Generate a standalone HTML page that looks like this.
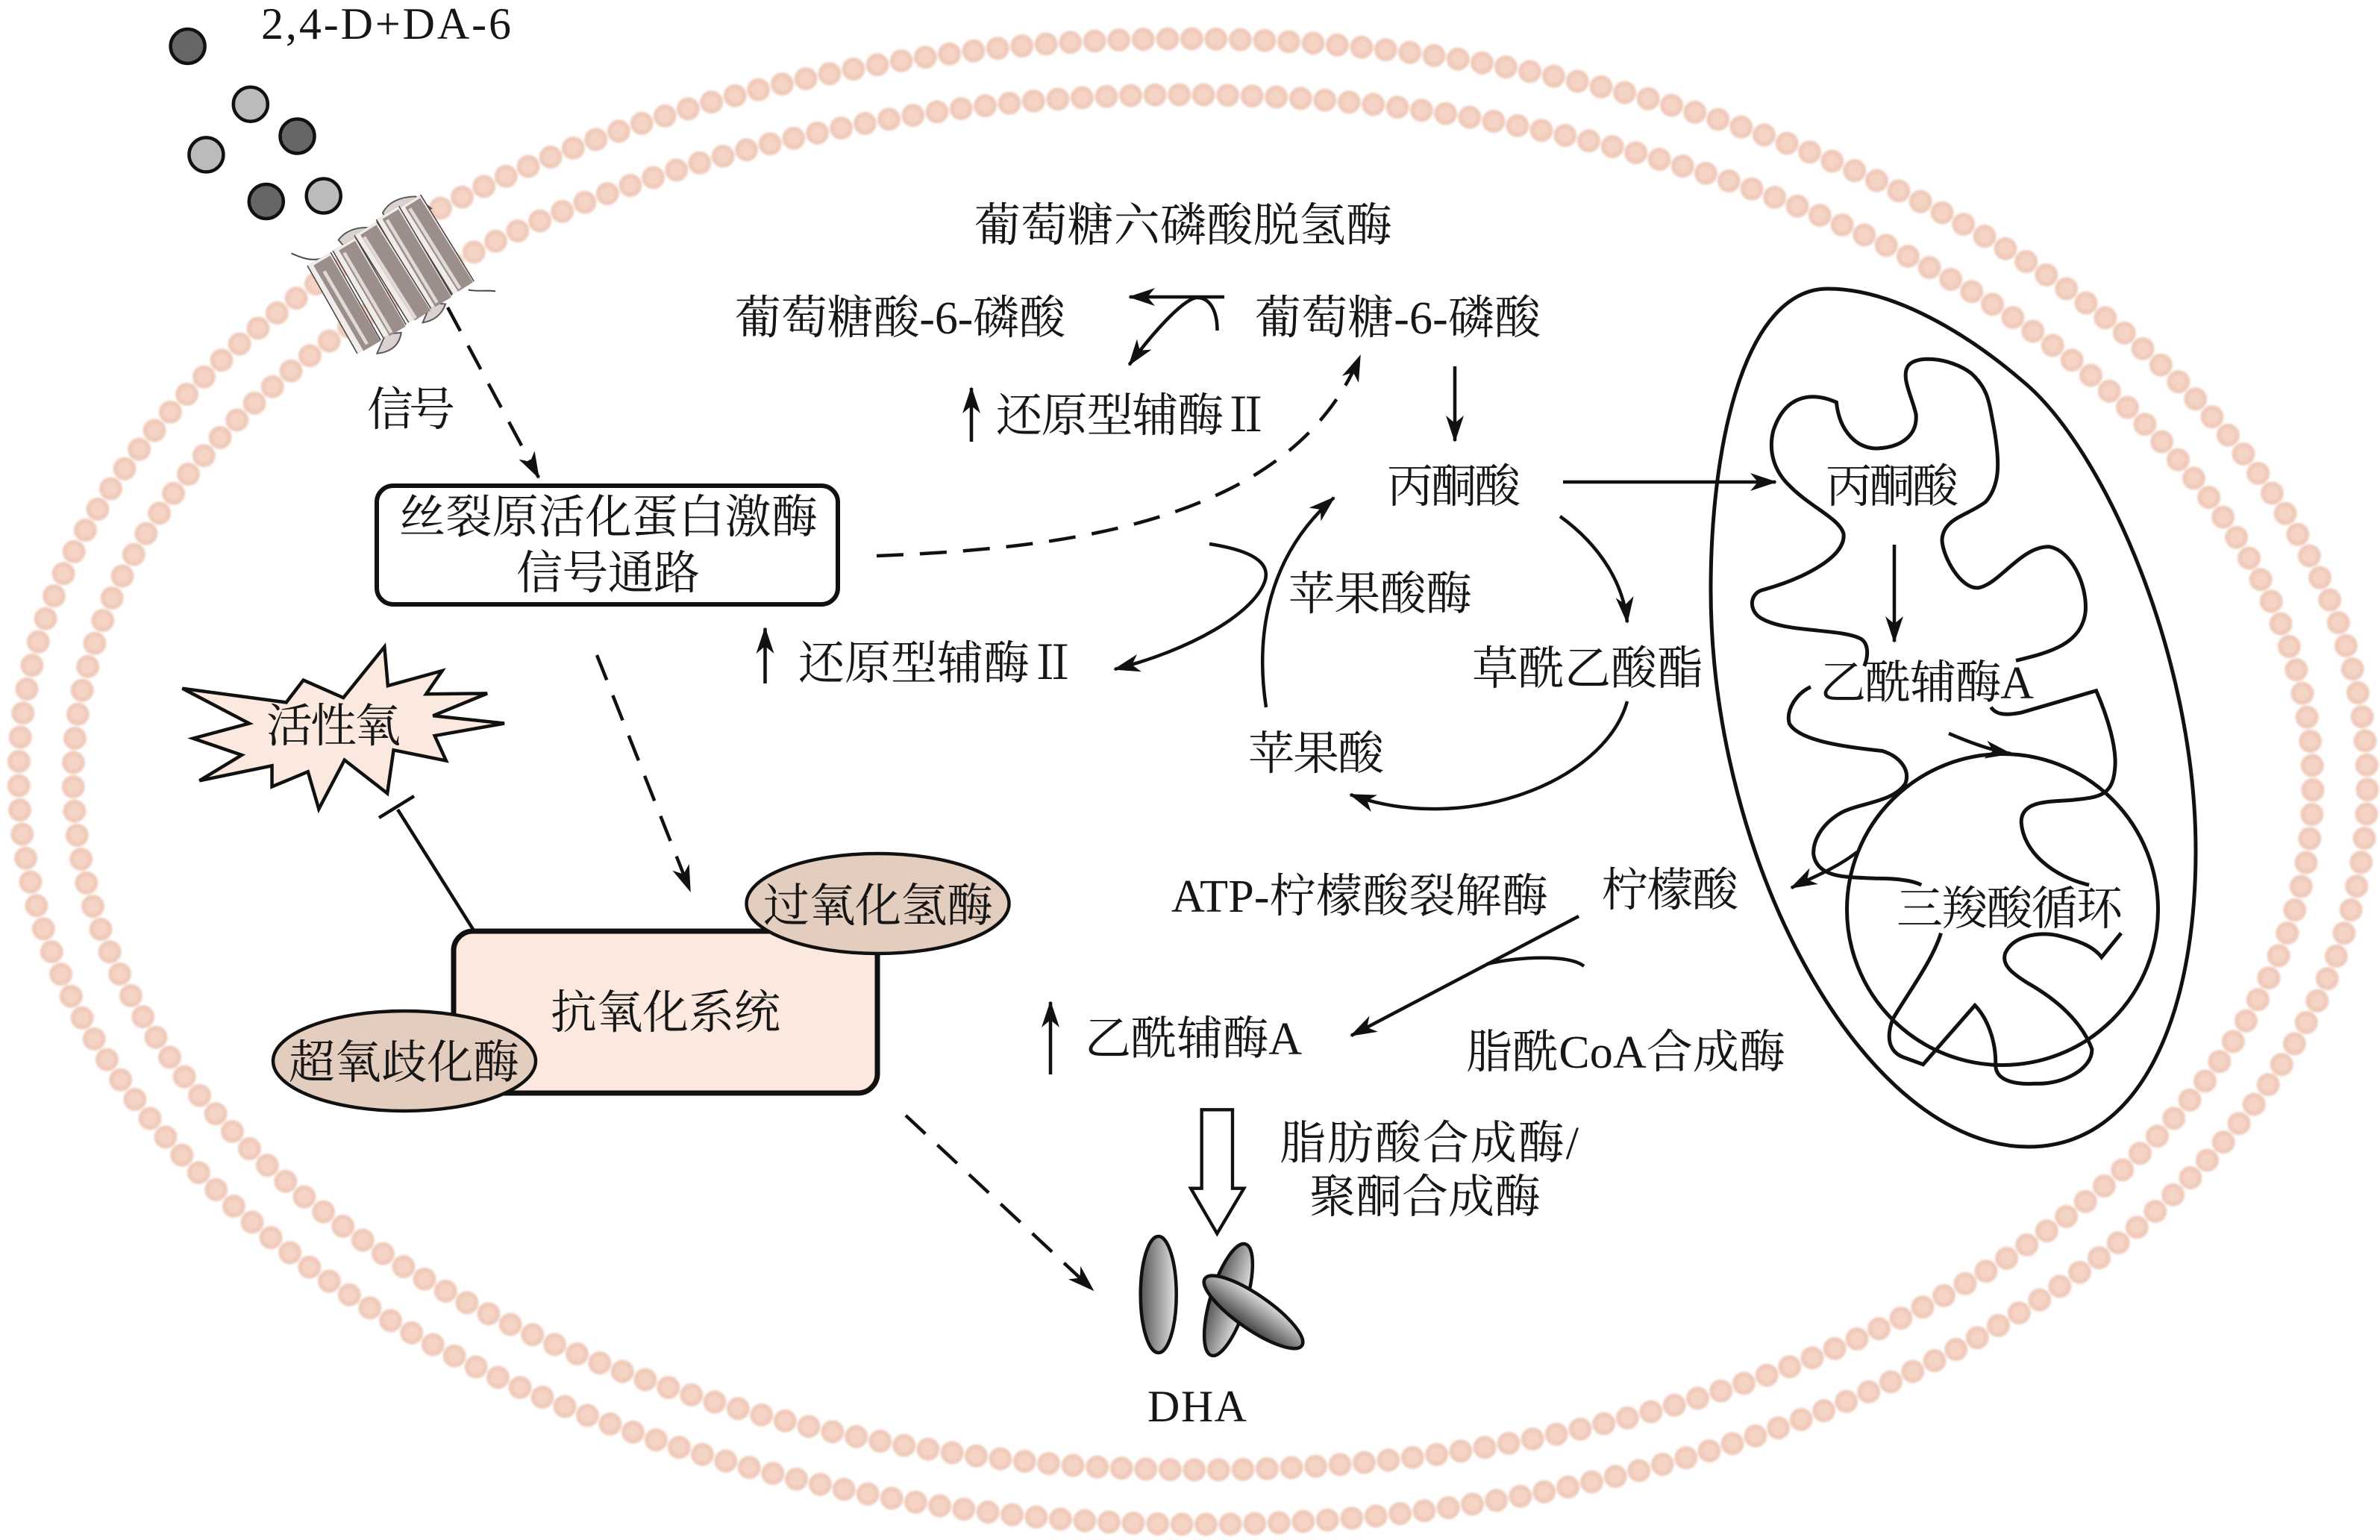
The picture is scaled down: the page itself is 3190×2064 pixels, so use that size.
<!DOCTYPE html>
<html lang="zh">
<head>
<meta charset="utf-8">
<title>DHA pathway</title>
<style>
html,body{margin:0;padding:0;background:#fff;width:3190px;height:2064px;overflow:hidden}
svg{display:block}
text{font-family:"Liberation Serif","Noto Serif CJK SC",serif;font-size:62px;fill:#161616}
.l{fill:none;stroke:#111;stroke-width:4.5;stroke-linecap:butt}
.d{fill:none;stroke:#111;stroke-width:4.5;stroke-dasharray:36 22}
.m{fill:none;stroke:#111;stroke-width:5;vector-effect:non-scaling-stroke;stroke-linejoin:miter}
</style>
</head>
<body>
<svg xmlns="http://www.w3.org/2000/svg" width="3190" height="2064" viewBox="0 0 3190 2064">
<defs>
<marker id="a" markerUnits="userSpaceOnUse" markerWidth="40" markerHeight="26" refX="34" refY="12" orient="auto">
<path d="M0 0L36 12L0 24L10 12Z" fill="#111"/>
</marker>
<linearGradient id="g1" x1="0" y1="0" x2="1" y2="0"><stop offset="0" stop-color="#555"/><stop offset="1" stop-color="#e4e4e4"/></linearGradient>
<linearGradient id="g3" x1="0" y1="1" x2="0" y2="0"><stop offset="0" stop-color="#444"/><stop offset="1" stop-color="#dedede"/></linearGradient>
<filter id="b" x="-2%" y="-2%" width="104%" height="104%"><feGaussianBlur stdDeviation="1.2"/></filter>
<filter id="b2" x="-20%" y="-20%" width="140%" height="140%"><feGaussianBlur stdDeviation="3"/></filter>
</defs>
<rect width="3190" height="2064" fill="#fff"/>

<!-- membrane beads -->
<g fill="none" stroke-linecap="round" filter="url(#b)" transform="rotate(0.4 1599 1048)">
<ellipse cx="1599" cy="1047.5" rx="1574" ry="995.5" pathLength="251" stroke="#f0cbbb" stroke-width="31" stroke-dasharray="0.001 0.999"/>
<ellipse cx="1599" cy="1047.5" rx="1574" ry="995.5" pathLength="251" stroke="#f5d4c6" stroke-width="18" stroke-dasharray="0.001 0.999"/>
<ellipse cx="1599" cy="1048.5" rx="1501" ry="921.5" pathLength="237" stroke="#f0cbbb" stroke-width="31" stroke-dasharray="0.001 0.999"/>
<ellipse cx="1599" cy="1048.5" rx="1501" ry="921.5" pathLength="237" stroke="#f5d4c6" stroke-width="18" stroke-dasharray="0.001 0.999"/>
</g>

<!-- ligand circles -->
<g stroke="#111" stroke-width="4.5">
<circle cx="251.6" cy="62" r="23" fill="#666"/>
<circle cx="335.8" cy="139.7" r="23" fill="#bbb"/>
<circle cx="398.5" cy="182.5" r="23" fill="#666"/>
<circle cx="276.4" cy="207.4" r="23" fill="#bbb"/>
<circle cx="356.8" cy="270" r="23" fill="#666"/>
<circle cx="433.7" cy="262.5" r="23" fill="#bbb"/>
</g>

<!-- receptor -->
<g transform="translate(180,0) scale(.3827)" fill="none">
<path d="M550 887C590 905 620 915 660 905M1170 1015C1200 1022 1230 1015 1265 1020" stroke="#444" stroke-width="5"/>
<path d="M870 745Q900 690 985 688L1040 730L900 800Z" fill="#d9d2cf" stroke="#555" stroke-width="5"/>
<path d="M715 840Q750 795 820 797L860 830L750 880Z" fill="#d9d2cf" stroke="#555" stroke-width="5"/>
<path d="M1010 1130Q1070 1120 1090 1065L1040 1060Z" fill="#d9d2cf" stroke="#555" stroke-width="5"/>
<path d="M850 1238Q925 1230 935 1165L880 1170Z" fill="#d9d2cf" stroke="#555" stroke-width="5"/>
<g stroke-linecap="butt">
<path d="M965 705L1152 1008" stroke="#4a4240" stroke-width="92"/><path d="M965 705L1152 1008" stroke="#f0ece9" stroke-width="84"/><path d="M975 710L1160 1005" stroke="#9c8f8b" stroke-width="62"/><path d="M965 730L1140 1010" stroke="#e0d9d6" stroke-width="12"/>
<path d="M887 745L1072 1058" stroke="#4a4240" stroke-width="96"/><path d="M887 745L1072 1058" stroke="#f0ece9" stroke-width="88"/><path d="M897 750L1082 1058" stroke="#9c8f8b" stroke-width="66"/><path d="M885 770L1060 1060" stroke="#e0d9d6" stroke-width="12"/>
<path d="M810 800L1000 1105" stroke="#4a4240" stroke-width="96"/><path d="M810 800L1000 1105" stroke="#f0ece9" stroke-width="88"/><path d="M820 805L1010 1105" stroke="#9c8f8b" stroke-width="66"/><path d="M805 830L985 1115" stroke="#e0d9d6" stroke-width="12"/>
<path d="M735 855L912 1160" stroke="#4a4240" stroke-width="96"/><path d="M735 855L912 1160" stroke="#f0ece9" stroke-width="88"/><path d="M745 860L922 1160" stroke="#9c8f8b" stroke-width="66"/><path d="M735 885L900 1165" stroke="#e0d9d6" stroke-width="12"/>
<path d="M647 907L822 1215" stroke="#4a4240" stroke-width="98"/><path d="M647 907L822 1215" stroke="#f0ece9" stroke-width="90"/><path d="M657 912L832 1212" stroke="#9c8f8b" stroke-width="68"/><path d="M665 950L815 1205" stroke="#e0d9d6" stroke-width="12"/>
</g>
</g>

<!-- dashed signal lines -->
<path class="d" marker-end="url(#a)" d="M600 412L722 640"/>
<path class="d" marker-end="url(#a)" d="M1175 745C1430 735 1730 700 1823 477"/>
<path class="d" marker-end="url(#a)" d="M800 878L925 1194"/>
<path class="d" marker-end="url(#a)" d="M1214 1495L1465 1729"/>

<!-- MAPK box -->
<rect x="505" y="651" width="618" height="159" rx="22" fill="#fff" stroke="#111" stroke-width="6"/>

<!-- ROS burst -->
<g transform="translate(200,820) scale(.7653,.4464)">
<path class="m" style="stroke-width:4.5;fill:#fbe9df" d="M58 230L240 272L270 205L340 258L412 105L418 222L513 177L485 247L592 245L497 312L622 335L500 372L520 447L428 415L417 545L342 445L297 592L278 480L215 525L215 462L88 507L162 430L77 380L175 335Z"/>
</g>
<path class="l" d="M635 1247L533 1085"/>
<path class="l" d="M555 1067L508 1096"/>

<!-- antioxidant -->
<rect x="608" y="1248" width="568" height="217" rx="26" fill="#fbe9df" stroke="#111" stroke-width="7"/>
<ellipse cx="1176.5" cy="1211" rx="176" ry="67" fill="#e3cdbf" stroke="#111" stroke-width="4.5"/>
<ellipse cx="542" cy="1422" rx="176" ry="67" fill="#e3cdbf" stroke="#111" stroke-width="4.5"/>

<!-- cytosol arrows -->
<path class="l" marker-end="url(#a)" d="M1641 398L1514 398"/>
<path class="l" marker-end="url(#a)" d="M1631.5 443C1631.5 417 1622 398 1603 399C1584 403 1545 446 1513.5 489"/>
<path class="l" marker-end="url(#a)" d="M1302 592L1302 520"/>
<path class="l" marker-end="url(#a)" d="M1950 491L1950 591"/>
<path class="l" marker-end="url(#a)" d="M1697 948C1686 876 1686 757 1788 667"/>
<path class="l" marker-end="url(#a)" d="M1621 729C1673 737 1705 752 1695 780C1679 823 1596 871 1494 897"/>
<path class="l" marker-end="url(#a)" d="M1025.5 916L1025.5 842"/>
<path class="l" marker-end="url(#a)" d="M2091 692C2146 732 2176 783 2181 834"/>
<path class="l" marker-end="url(#a)" d="M2181 940C2150 1050 1960 1120 1810 1065"/>
<path class="l" marker-end="url(#a)" d="M2095 646L2380 646"/>
<path class="l" marker-end="url(#a)" d="M2116 1228L1811 1388"/>
<path class="l" d="M1993 1292C2031 1283 2102 1278 2123 1295"/>
<path class="l" marker-end="url(#a)" d="M1408 1440L1408 1343"/>

<!-- block arrow -->
<g transform="translate(1450,1450) scale(.3333)">
<path d="M482 112H606V428H652L544 610L438 428H482Z" fill="#fff" stroke="#111" stroke-width="13"/>
</g>

<!-- DHA ellipses -->
<g stroke="#111" stroke-width="4.5">
<ellipse cx="1552.7" cy="1735" rx="24" ry="78" fill="url(#g1)"/>
<ellipse cx="1646.5" cy="1742" rx="24" ry="78" fill="url(#g1)" transform="rotate(17 1646.5 1742)"/>
<ellipse cx="1680" cy="1758.5" rx="79" ry="23" fill="url(#g3)" transform="rotate(34.7 1680 1758.5)"/>
</g>

<!-- mitochondrion -->
<path fill="none" stroke="#111" stroke-width="5" d="M2450 387C2540 387 2640 450 2710 510C2820 600 2943 880 2943 1140C2943 1360 2870 1537 2719 1537C2500 1537 2293 1160 2293 790C2293 590 2340 387 2450 387Z"/>
<circle cx="2684" cy="1219" r="208.5" fill="none" stroke="#111" stroke-width="5"/>
<g transform="translate(2250,350) scale(.4783,.7334)">
<path class="m" d="M520 740C530 725 535 700 510 690C450 670 290 680 225 650C195 635 200 605 240 600C350 580 470 540 462 498C450 470 370 450 310 410C270 385 250 350 265 310C300 240 380 240 442 258C450 310 500 345 560 342C620 340 670 320 665 280C655 250 625 215 640 195C655 170 760 175 820 205C870 235 870 260 885 310C900 370 900 410 860 440C810 465 740 470 738 510C740 540 790 600 840 597C900 590 960 520 1040 522C1100 530 1145 590 1140 640C1130 700 1040 715 945 730"/>
<path class="m" d="M370 778C330 790 300 820 310 845C340 880 500 890 570 895C620 905 650 930 635 955C600 990 500 990 450 1010C400 1030 375 1060 378 1085C390 1130 480 1125 550 1128C600 1128 650 1130 680 1140"/>
<path class="m" d="M875 815C890 830 920 830 960 825L1170 785C1200 830 1230 890 1222 930C1215 980 1170 980 1100 985C1040 988 960 985 960 1025C965 1080 1050 1125 1150 1140"/>
<path class="m" d="M735 1228C710 1280 640 1340 600 1385C580 1420 590 1445 630 1455L685 1468L830 1360C860 1380 890 1420 888 1470C890 1500 950 1505 1000 1503C1080 1505 1160 1475 1158 1440C1130 1390 1060 1350 980 1320C930 1300 905 1285 915 1265C935 1235 1000 1225 1060 1232C1110 1240 1160 1250 1185 1272L1240 1228"/>
</g>
<path class="l" marker-end="url(#a)" d="M2539 730L2539 860"/>
<path class="l" marker-end="url(#a)" d="M2612 983C2640 995 2670 1006 2695 1010"/>
<path class="l" marker-end="url(#a)" d="M2489 1142C2460 1165 2420 1180 2401 1190"/>

<!-- labels -->
<text x="350" y="52" textLength="335" style="font-size:60px">2,4-D+DA-6</text>
<text x="1306" y="323" textLength="560">葡萄糖六磷酸脱氢酶</text>
<text x="985" y="447" textLength="443">葡萄糖酸-6-磷酸</text>
<text x="1682" y="447" textLength="383">葡萄糖-6-磷酸</text>
<text x="1335" y="578" textLength="366">还原型辅酶Ⅱ</text>
<text x="1859" y="673" textLength="179">丙酮酸</text>
<text x="1727" y="817" textLength="246">苹果酸酶</text>
<text x="1973" y="917" textLength="310">草酰乙酸酯</text>
<text x="1673" y="1031" textLength="182">苹果酸</text>
<text x="1070" y="910" textLength="372">还原型辅酶Ⅱ</text>
<text x="535" y="714" textLength="561">丝裂原活化蛋白激酶</text>
<text x="692" y="789" textLength="246">信号通路</text>
<text x="492" y="570" textLength="118">信号</text>
<text x="357" y="994" textLength="180">活性氧</text>
<text x="738" y="1378" textLength="308">抗氧化系统</text>
<text x="1023" y="1235" textLength="308">过氧化氢酶</text>
<text x="387" y="1445" textLength="309">超氧歧化酶</text>
<text x="2447" y="673" textLength="178">丙酮酸</text>
<text x="2439" y="936" textLength="287">乙酰辅酶A</text>
<text x="2542" y="1239" textLength="303">三羧酸循环</text>
<text x="2147" y="1214" textLength="183">柠檬酸</text>
<text x="1570" y="1222" textLength="505">ATP-柠檬酸裂解酶</text>
<text x="1965" y="1431" textLength="428">脂酰CoA合成酶</text>
<text x="1454" y="1413" textLength="291">乙酰辅酶A</text>
<text x="1715" y="1553" textLength="401">脂肪酸合成酶/</text>
<text x="1755" y="1625" textLength="310">聚酮合成酶</text>
<text x="1538" y="1905" textLength="133" style="font-size:60px">DHA</text>
</svg>
</body>
</html>
